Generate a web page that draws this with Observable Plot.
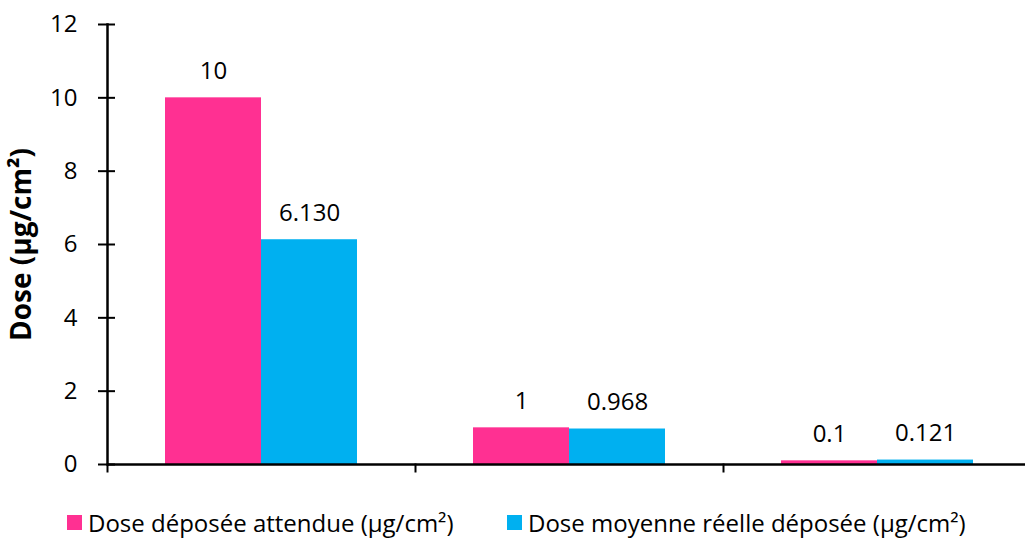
<!DOCTYPE html>
<html>
<head>
<meta charset="utf-8">
<script src="https://cdn.jsdelivr.net/npm/d3@7"></script>
<script src="https://cdn.jsdelivr.net/npm/@observablehq/plot@0.6"></script>
<style>
  html, body { margin: 0; padding: 0; background: #fff; overflow: hidden; }
  #chart { position: relative; width: 1025px; height: 539px; overflow: hidden; }
  #chart svg { position: absolute; left: 0; top: 0; max-width: none !important; }
  g[aria-label="y-axis label"] text { font-weight: bold; font-size: 28px; }
  .legend { position: absolute; top: 506px; left: 67px; font-family: "Open Sans", sans-serif; font-size: 24px; color: #000; }
  .legend .item { position: absolute; top: 0; display: flex; align-items: center; white-space: nowrap; }
  .legend .sw { width: 15px; height: 15px; margin-right: 6px; }
</style>
</head>
<body>
<div id="chart"></div>
<script>
// Dose groups (x categories, not labelled on the axis)
const groups = ["10 µg/cm²", "1 µg/cm²", "0.1 µg/cm²"];
// Series names as shown in the legend
const series = ["Dose déposée attendue (µg/cm²)", "Dose moyenne réelle déposée (µg/cm²)"];
const seriesColors = ["#FF3092", "#00B0F0"];
// Values per group
const expectedDose = [10, 1, 0.1];
const measuredDose = [6.130, 0.968, 0.121];
// Y tick values
const yTicks = [0, 2, 4, 6, 8, 10, 12];

const fmtMeasured = d3.format(".3f");
const rows = [];
groups.forEach((g, i) => {
  rows.push({group: g, series: series[0], value: expectedDose[i], label: String(expectedDose[i])});
  rows.push({group: g, series: series[1], value: measuredDose[i], label: fmtMeasured(measuredDose[i])});
});

const chart = Plot.plot({
  width: 1031,
  height: 490,
  marginTop: 24,
  marginBottom: 26,
  marginLeft: 107,
  marginRight: 0,
  style: {fontFamily: "Open Sans, sans-serif", fontSize: "24px", color: "#000", background: "transparent"},
  fx: {domain: groups, padding: 0, axis: null},
  x: {domain: series, paddingInner: 0, paddingOuter: 0.6, axis: null},
  y: {domain: [0, 12]},
  color: {domain: series, range: seriesColors},
  marks: [
    Plot.barY(rows, {fx: "group", x: "series", y: "value", fill: "series"}),
    Plot.text(rows, {fx: "group", x: "series", y: "value", text: "label", dy: -19, lineAnchor: "bottom", fill: "#000"}),
    // horizontal axis line and group separators
    Plot.ruleY([0], {stroke: "#000", strokeWidth: 2.5}),
    Plot.frame({anchor: "left", insetTop: 440, insetBottom: -7, stroke: "#000", strokeWidth: 2}),
    // vertical axis
    Plot.frame({anchor: "left", facetAnchor: "left", stroke: "#000", strokeWidth: 2.5}),
    Plot.axisY({
      ticks: yTicks,
      tickSize: 17,
      dx: 8,
      tickPadding: 21,
      strokeWidth: 2,
      stroke: "#000",
      fill: "#000",
      label: "Dose (µg/cm²)",
      labelAnchor: "center",
      labelArrow: "none",
      labelOffset: 96
    })
  ]
});

const root = document.getElementById("chart");
root.appendChild(chart);

// Legend below the plot
const legend = document.createElement("div");
legend.className = "legend";
const offsets = [0, 440];
series.forEach((s, i) => {
  const item = document.createElement("div");
  item.className = "item";
  item.style.left = offsets[i] + "px";
  const sw = document.createElement("span");
  sw.className = "sw";
  sw.style.background = seriesColors[i];
  const t = document.createElement("span");
  t.textContent = s;
  item.appendChild(sw);
  item.appendChild(t);
  legend.appendChild(item);
});
root.appendChild(legend);
</script>
</body>
</html>
